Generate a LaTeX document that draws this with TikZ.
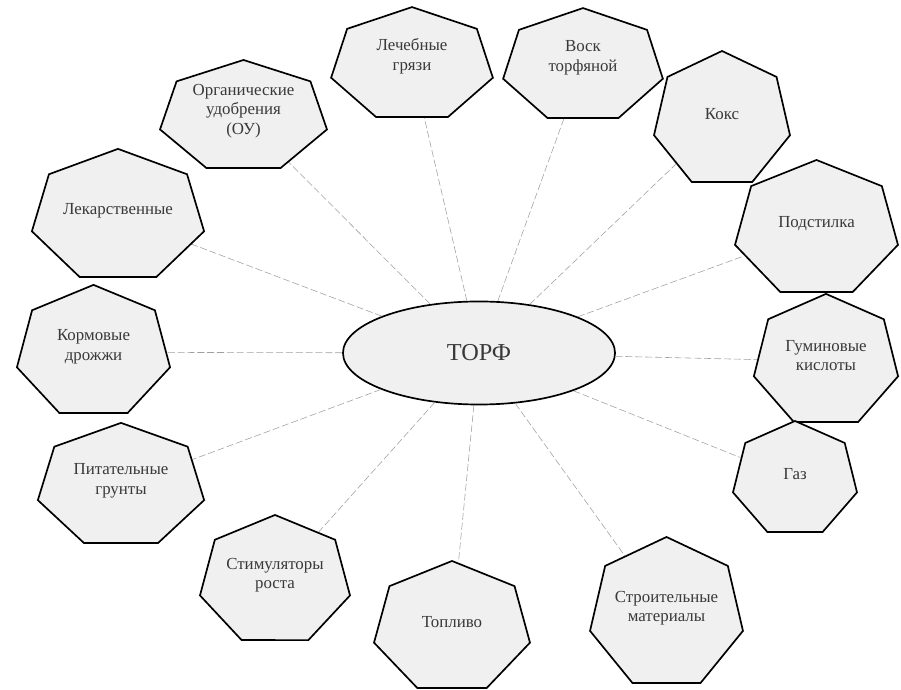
\documentclass[tikz,border=0pt]{standalone}
\usepackage{fontspec}
\setmainfont{Liberation Serif}
\usetikzlibrary{shapes.geometric}
\tikzset{%
	hepta/.style = {draw, line width=1.2pt, fill=gray!12, regular polygon, regular polygon sides=7, inner sep=0pt, transform shape},
	core/.style  = {draw, line width=1.2pt, fill=gray!12, ellipse, minimum width=6.8cm, minimum height=2.575cm},
	txt/.style   = {align=center, text=gray!45!black, font=\large},
	link/.style  = {gray!75, thin, dash pattern=on 5pt off 2pt},
}
\begin{document}
\begin{tikzpicture}[x=0.025cm, y=0.025cm]
	\useasboundingbox (0,0) rectangle (901,690);
	
	\node[core] (peat) at (479,337) {};
	\node[txt, font=\LARGE] at (peat) {ТОРФ};
	
	\node[hepta, minimum size=2.84cm, xscale=1.507] (h1) at (243.5,573.2) {};
	\node[hepta, minimum size=2.89cm, xscale=1.435] (h2) at (412,625.1) {};
	\node[hepta, minimum size=2.89cm, xscale=1.417] (h3) at (583,624.1) {};
	\node[hepta, minimum size=3.445cm, xscale=1.012] (h4) at (722,570.1) {};
	\node[hepta, minimum size=3.47cm, xscale=1.204] (h5) at (816.5,460.6) {};
	\node[hepta, minimum size=3.37cm, xscale=1.097] (h6) at (826,328.7) {};
	\node[hepta, minimum size=2.92cm, xscale=1.089] (h7) at (795,210.6) {};
	\node[hepta, minimum size=3.84cm, xscale=1.021] (h8) at (666.5,76.2) {};
	\node[hepta, minimum size=3.34cm, xscale=1.197] (h9) at (452,62.2) {};
	\node[hepta, minimum size=3.29cm, xscale=1.169] (h10) at (275,109.2) {};
	\node[hepta, minimum size=3.16cm, xscale=1.349] (h11) at (121,203.9) {};
	\node[hepta, minimum size=3.37cm, xscale=1.165] (h12) at (93.5,337.7) {};
	\node[hepta, minimum size=3.37cm, xscale=1.31] (h13) at (118,473.7) {};
	
	\foreach \n in {h1,h2,h3,h4,h5,h6,h7,h8,h9,h10,h11,h12,h13} \draw[link] (peat) -- (\n);
	
	\node[txt] at ([yshift=4pt]h1) {Органические\\удобрения\\(ОУ)};
	\node[txt] at ([yshift=6pt]h2) {Лечебные\\грязи};
	\node[txt] at ([yshift=6pt]h3) {Воск\\торфяной};
	\node[txt] at ([yshift=4pt]h4) {Кокс};
	\node[txt] at ([yshift=4pt]h5) {Подстилка};
	\node[txt] at ([yshift=4pt]h6) {Гуминовые\\кислоты};
	\node[txt] at ([yshift=4pt]h7) {Газ};
	\node[txt] at ([yshift=4pt]h8) {Строительные\\материалы};
	\node[txt] at ([yshift=4pt]h9) {Топливо};
	\node[txt] at ([yshift=4pt]h10) {Стимуляторы\\роста};
	\node[txt] at ([yshift=4pt]h11) {Питательные\\грунты};
	\node[txt] at ([yshift=4pt]h12) {Кормовые\\дрожжи};
	\node[txt] at ([yshift=4pt]h13) {Лекарственные};
\end{tikzpicture}
\end{document}
